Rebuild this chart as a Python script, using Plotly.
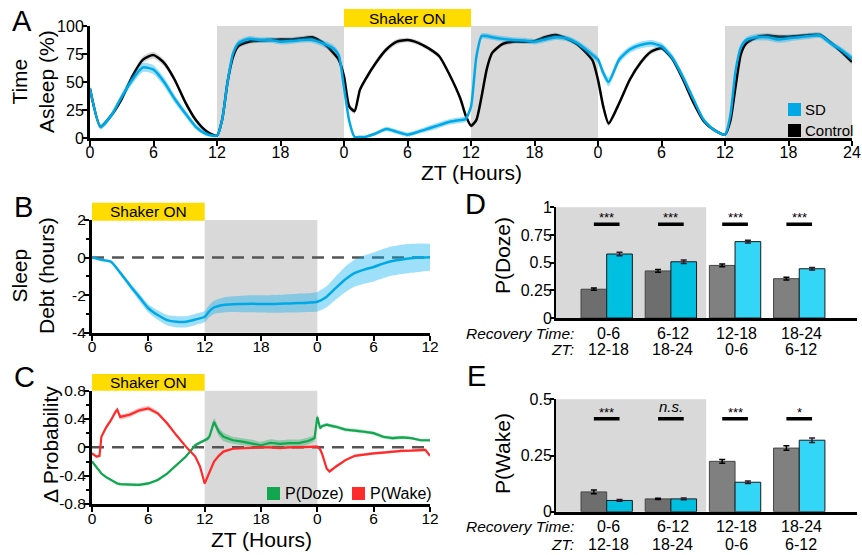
import plotly.graph_objects as go

W, H = 862, 555
def PX(x): return x / W
def PY(y): return 1 - y / H

FONT = "Liberation Sans, Arial, Helvetica, sans-serif"
BLUE = "#00a9e6"
BLUE_BAND = "rgba(0,174,239,0.38)"
BLACK_BAND = "rgba(0,0,0,0.16)"
GREEN = "#12a64f"
GREEN_BAND = "rgba(18,166,79,0.35)"
RED = "#ff2a2a"
RED_BAND = "rgba(255,42,42,0.3)"
YELLOW = "#ffdc00"
SHADE = "#d9d9d9"

# ---------------- Panel A data ----------------
t_A = [0,1,2,3,4,5,6,7,8,9,10,11,12,
       12.5,13,13.5,14,
       15,16,17,18,19,20,21,22,23,
       23.5,24,24.5,25,25.5,26,
       27,28,29,30,31,32,33,34,35,
       35.5,36,36.5,37,37.5,38,
       39,40,41,42,43,44,45,46,47,
       47.5,48,48.5,49,
       50,51,52,53,54,55,56,57,58,59,60,
       60.5,61,61.5,62,
       63,64,65,66,67,68,69,70,71,72]
ctrl_A = [44,10,20,35,55,70,74,67,52,32,16,6,2,
          17,50,72,82,
          86,87,87.5,88,88,89,90,85,76,
          70,55,28,24,43,52,
          67,79,86,87.5,85,80,73,56,35,
          20,11,16,37,62,76,
          84,86,86,86.5,90,92,89,84,75,
          69,52,28,13,
          31,52,67,77,80,71,53,32,15,7,3,
          15,46,75,84.5,
          90,91.5,90.5,90.5,91,92,92,85,77,68]
ctrl_A_sem = [2,2,2,2.5,3,3,3,3,2.5,2,2,1.5,1,
              2,2,2,2,
              2,2,2,2,2,2,2,2,2.5,
              2.5,2.5,2.5,2.5,2.5,2.5,
              2.5,2.5,2.5,2,2,2,2,2,2,
              2,2,2,2.5,2.5,2,
              2,2,2,2,2,2,2,2,2,
              2,2.5,2.5,2.5,
              2.5,2.5,2.5,2.5,2,2,2,2,2,1.5,1,
              2,2,2,2,
              2,2,2,2,2,2,2,2,2,2.5]
sd_A = [44,10,20,37,52,63,61,50,35,22,10,3.5,2,
        17,50,75,84.5,
        88.5,87.5,87.5,86,86.5,87.5,87.5,84.5,80,
        74,45,15,1,1,1,
        4,8,5.5,3,5.5,8.5,11.5,14.5,16,
        17,28,72,91,91,90,
        88.5,87.5,87,86,88,90,89,85,78,
        74,70,58,50,
        70,79,83,84.5,82,72,55,35,16,7,3,
        20,60,81,87.5,
        90,90,88,89,90,91,91.5,84.5,78.5,71]
sd_A_sem = [2.5,2.5,2.5,3,4,4,4,4,3.5,3,2.5,2,1,
            2,2.5,2.5,2.5,
            2.5,2.5,2.5,2.5,2.5,2.5,2.5,3,3,
            3,3,2,1,1,1,
            1.5,2,2,2,2,2.5,2.5,2.5,2.5,
            2.5,2.5,2.5,2.5,2.5,2.5,
            2.5,2.5,2.5,2.5,2.5,2.5,2.5,2.5,3,
            3,3,3.5,4,
            3.5,3,3,3,3,3,3,2.5,2,1.5,1,
            2,2.5,2.5,2.5,
            3,3,3,3,2.5,2.5,2.5,2.5,2.5,3]
ticks_A = [0,6,12,18,24,30,36,42,48,54,60,66,72]
ticktext_A = ["0","6","12","18","0","6","12","18","0","6","12","18","24"]
dark_A = [(12,24),(36,48),(60,72)]
shaker_A = (24,36)

# ---------------- Panel B data ----------------
t_B = [0,1,2,3,4,5,6,7,8,9,10,11,12,12.5,13,14,15,16,17,18,19,20,21,22,23,24,
       25,26,27,28,29,30,31,32,33,34,35,36]
debt_B = [0,-0.12,-0.22,-0.8,-1.46,-2.08,-2.7,-3.06,-3.33,-3.42,-3.42,-3.3,-3.15,
          -2.85,-2.65,-2.52,-2.48,-2.47,-2.46,-2.47,-2.47,-2.46,-2.44,-2.42,-2.4,-2.35,
          -2.08,-1.6,-1.15,-0.82,-0.64,-0.5,-0.32,-0.18,-0.1,-0.04,0,0.02]
debt_B_sem = [0,0.03,0.05,0.1,0.15,0.2,0.22,0.25,0.27,0.3,0.3,0.3,0.3,
              0.32,0.35,0.4,0.42,0.44,0.45,0.46,0.47,0.48,0.49,0.5,0.5,0.52,
              0.56,0.62,0.68,0.72,0.75,0.77,0.78,0.78,0.78,0.77,0.75,0.72]
ticks_BC = [0,6,12,18,24,30,36]
ticktext_BC = ["0","6","12","18","0","6","12"]
dark_BC = (12,24)
shaker_BC = (0,12)

# ---------------- Panel C data ----------------
t_C = [0,0.5,0.8,1,1.5,2,2.5,2.7,3,4,5,6,7,8,9,10,11,
       11.5,12,12.3,12.5,13,13.5,14,15,16,17,18,19,20,21,22,23,
       23.7,24,24.3,24.5,25,25.3,26,27,28,29,30,31,32,33,34,35,35.5,36]
wake_C = [-0.085,-0.13,-0.12,0.15,0.28,0.38,0.5,0.53,0.43,0.46,0.52,0.55,0.48,0.34,0.17,0.01,-0.13,
          -0.27,-0.51,-0.42,-0.35,-0.2,-0.12,-0.06,-0.02,-0.01,0,0,0,-0.01,0,0,0,
          0.01,0.01,-0.03,-0.09,-0.3,-0.34,-0.27,-0.18,-0.12,-0.1,-0.085,-0.075,-0.06,-0.05,-0.047,-0.04,-0.035,-0.12]
wake_C_sem = [0.02,0.02,0.02,0.02,0.025,0.03,0.035,0.035,0.035,0.035,0.035,0.035,0.03,0.025,0.02,0.02,0.02,
              0.02,0.02,0.02,0.02,0.02,0.02,0.02,0.015,0.015,0.015,0.015,0.015,0.015,0.015,0.015,0.015,
              0.015,0.015,0.02,0.02,0.02,0.02,0.02,0.02,0.02,0.02,0.02,0.02,0.02,0.02,0.02,0.02,0.02,0.02]
doze_C = [-0.2,-0.28,-0.33,-0.37,-0.42,-0.46,-0.5,-0.51,-0.52,-0.53,-0.53,-0.51,-0.46,-0.37,-0.25,-0.13,0.03,
          0.07,0.1,0.12,0.15,0.36,0.22,0.15,0.1,0.08,0.06,0.03,0.065,0.05,0.06,0.06,0.09,
          0.13,0.43,0.27,0.3,0.32,0.31,0.29,0.25,0.24,0.22,0.2,0.15,0.13,0.14,0.13,0.1,0.1,0.1]
doze_C_sem = [0.02,0.02,0.02,0.02,0.02,0.02,0.02,0.02,0.02,0.02,0.02,0.02,0.02,0.02,0.02,0.02,0.02,
              0.02,0.02,0.03,0.03,0.05,0.06,0.06,0.05,0.05,0.05,0.05,0.05,0.05,0.05,0.05,0.05,
              0.04,0.03,0.025,0.025,0.025,0.025,0.025,0.025,0.025,0.025,0.025,0.025,0.025,0.025,0.02,0.02,0.02,0.02]

# ---------------- Panels D / E data ----------------
recovery_labels = ["0-6", "6-12", "12-18", "18-24"]
zt_labels = ["12-18", "18-24", "0-6", "6-12"]
doze_ctrl = [0.26, 0.425, 0.475, 0.355]
doze_ctrl_err = [0.01, 0.012, 0.012, 0.012]
doze_sd = [0.578, 0.508, 0.69, 0.445]
doze_sd_err = [0.015, 0.016, 0.012, 0.012]
wake_ctrl = [0.088, 0.057, 0.224, 0.283]
wake_ctrl_err = [0.008, 0.003, 0.008, 0.01]
wake_sd = [0.05, 0.057, 0.131, 0.318]
wake_sd_err = [0.004, 0.004, 0.006, 0.01]
sig_doze = ["***", "***", "***", "***"]
sig_wake = ["***", "n.s.", "***", "*"]
sig_y_doze = 0.846
sig_y_wake = 0.413
ctrl_bar_colors = ["#6e6e6e", "#6e6e6e", "#808080", "#808080"]
sd_bar_colors = ["#00c0e2", "#00c0e2", "#33d6f7", "#33d6f7"]

fig = go.Figure()

def add_band(x, y, s, color, xa, ya):
    up = [a + b for a, b in zip(y, s)]
    lo = [a - b for a, b in zip(y, s)]
    fig.add_trace(go.Scatter(x=x, y=up, mode="lines", line=dict(width=0, shape="spline", smoothing=0.6),
                             hoverinfo="skip", showlegend=False, xaxis=xa, yaxis=ya))
    fig.add_trace(go.Scatter(x=x, y=lo, mode="lines", line=dict(width=0, shape="spline", smoothing=0.6),
                             fill="tonexty", fillcolor=color, hoverinfo="skip", showlegend=False,
                             xaxis=xa, yaxis=ya))

def add_line(x, y, color, width, xa, ya, shape="spline"):
    fig.add_trace(go.Scatter(x=x, y=y, mode="lines",
                             line=dict(color=color, width=width, shape=shape, smoothing=0.6),
                             showlegend=False, xaxis=xa, yaxis=ya))

# A
add_band(t_A, ctrl_A, ctrl_A_sem, BLACK_BAND, "x", "y")
add_line(t_A, ctrl_A, "black", 2.5, "x", "y")
add_band(t_A, sd_A, sd_A_sem, BLUE_BAND, "x", "y")
add_line(t_A, sd_A, BLUE, 2.5, "x", "y")
# B
add_band(t_B, debt_B, debt_B_sem, BLUE_BAND, "x2", "y2")
add_line(t_B, debt_B, BLUE, 2.5, "x2", "y2")
# C
add_band(t_C, doze_C, doze_C_sem, GREEN_BAND, "x3", "y3")
add_line(t_C, doze_C, GREEN, 2.2, "x3", "y3", shape="linear")
add_band(t_C, wake_C, wake_C_sem, RED_BAND, "x3", "y3")
add_line(t_C, wake_C, RED, 2.2, "x3", "y3", shape="linear")

# D / E bars
pos = list(range(len(recovery_labels)))
for ya, xa, cv, ce, sv, se in [("y4", "x4", doze_ctrl, doze_ctrl_err, doze_sd, doze_sd_err),
                               ("y5", "x5", wake_ctrl, wake_ctrl_err, wake_sd, wake_sd_err)]:
    fig.add_trace(go.Bar(x=[p - 0.2 for p in pos], y=cv, width=0.4,
                         marker=dict(color=ctrl_bar_colors, line=dict(color="#444444", width=1)),
                         error_y=dict(type="data", array=ce, color="black", thickness=1.5, width=3),
                         showlegend=False, xaxis=xa, yaxis=ya))
    fig.add_trace(go.Bar(x=[p + 0.2 for p in pos], y=sv, width=0.4,
                         marker=dict(color=sd_bar_colors, line=dict(color="#1a1a1a", width=1)),
                         error_y=dict(type="data", array=se, color="#2a1a2a", thickness=1.5, width=3),
                         showlegend=False, xaxis=xa, yaxis=ya))

shapes = []
annotations = []

# Shading
for a, b in dark_A:
    shapes.append(dict(type="rect", xref="x", yref="y domain", x0=a, x1=b, y0=0, y1=1,
                       fillcolor=SHADE, line=dict(width=0), layer="below"))
for xr, yr in [("x2", "y2"), ("x3", "y3")]:
    shapes.append(dict(type="rect", xref=xr, yref=yr + " domain", x0=dark_BC[0], x1=dark_BC[1],
                       y0=0, y1=1, fillcolor=SHADE, line=dict(width=0), layer="below"))
    shapes.append(dict(type="line", xref=xr, yref=yr, x0=0, x1=36, y0=0, y1=0,
                       line=dict(color="#555555", width=2.5, dash="12px,8px"), layer="below"))
for xr, yr in [("x4", "y4"), ("x5", "y5")]:
    shapes.append(dict(type="rect", xref=xr, yref=yr + " domain", x0=-0.79, x1=1.55, y0=0, y1=1,
                       fillcolor=SHADE, line=dict(width=0), layer="below"))

# Shaker ON bars
shaker_specs = [("x", shaker_A, 27, 9), ("x2", shaker_BC, 220.7, 202.7), ("x3", shaker_BC, 390.7, 374)]
for xr, (a, b), ybot, ytop in shaker_specs:
    shapes.append(dict(type="rect", xref=xr, yref="paper", x0=a, x1=b, y0=PY(ybot), y1=PY(ytop),
                       fillcolor=YELLOW, line=dict(width=0), layer="above"))
    annotations.append(dict(text="Shaker ON", xref=xr, yref="paper", x=(a + b) / 2,
                            y=PY((ybot + ytop) / 2), showarrow=False, xanchor="center", yanchor="middle",
                            font=dict(size=15.5, color="black", family=FONT)))

# Significance lines / stars
for xr, yr, sy, labels in [("x4", "y4", sig_y_doze, sig_doze), ("x5", "y5", sig_y_wake, sig_wake)]:
    for p, lab in zip(pos, labels):
        shapes.append(dict(type="line", xref=xr, yref=yr, x0=p - 0.2, x1=p + 0.2, y0=sy, y1=sy,
                           line=dict(color="black", width=3.5), layer="above"))
        if lab == "n.s.":
            annotations.append(dict(text="<i>n.s.</i>", xref=xr, yref=yr, x=p, y=sy, yshift=2,
                                    showarrow=False, yanchor="bottom",
                                    font=dict(size=15, color="black", family=FONT)))
        else:
            annotations.append(dict(text=lab, xref=xr, yref=yr, x=p, y=sy, yshift=-3,
                                    showarrow=False, yanchor="bottom",
                                    font=dict(size=13, color="black", family=FONT)))

# Category labels D/E
for xr, y1, y2 in [("x4", 333, 349.5), ("x5", 526, 544)]:
    for p, rl, zl in zip(pos, recovery_labels, zt_labels):
        annotations.append(dict(text=rl, xref=xr, yref="paper", x=p + 0.03, y=PY(y1), showarrow=False,
                                xanchor="center", yanchor="middle", font=dict(size=16, color="black", family=FONT)))
        annotations.append(dict(text=zl, xref=xr, yref="paper", x=p + 0.03, y=PY(y2), showarrow=False,
                                xanchor="center", yanchor="middle", font=dict(size=16, color="black", family=FONT)))
    annotations.append(dict(text="<i>Recovery Time:</i>", xref="paper", yref="paper", x=PX(576), y=PY(y1),
                            showarrow=False, xanchor="right", yanchor="middle",
                            font=dict(size=15.5, color="black", family=FONT)))
    annotations.append(dict(text="<i>ZT:</i>", xref="paper", yref="paper", x=PX(576), y=PY(y2),
                            showarrow=False, xanchor="right", yanchor="middle",
                            font=dict(size=15.5, color="black", family=FONT)))

# Legends
legA = [("SD", BLUE, 103, 116), ("Control", "black", 124, 137)]
for lab, col, y0, y1 in legA:
    shapes.append(dict(type="rect", xref="paper", yref="paper", x0=PX(788), x1=PX(801),
                       y0=PY(y1), y1=PY(y0), fillcolor=col, line=dict(width=0), layer="above"))
    annotations.append(dict(text=lab, xref="paper", yref="paper", x=PX(803), y=PY((y0 + y1) / 2),
                            showarrow=False, xanchor="left", yanchor="middle",
                            font=dict(size=15, color="black", family=FONT)))
legC = [("P(Doze)", GREEN, 267), ("P(Wake)", RED, 352)]
for lab, col, x0 in legC:
    shapes.append(dict(type="rect", xref="paper", yref="paper", x0=PX(x0), x1=PX(x0 + 13),
                       y0=PY(500), y1=PY(487), fillcolor=col, line=dict(width=0), layer="above"))
    annotations.append(dict(text=lab, xref="paper", yref="paper", x=PX(x0 + 15.5), y=PY(493.5),
                            showarrow=False, xanchor="left", yanchor="middle",
                            font=dict(size=16, color="black", family=FONT)))

# Axis titles
titles = [("Time<br>Asleep (%)", 33, 82, -90), ("Sleep<br>Debt (hours)", 33, 276, -90),
          ("\u0394 Probability", 50, 445, -90), ("P(Doze)", 502.5, 255.5, -90),
          ("P(Wake)", 502.5, 453.5, -90), ("ZT (Hours)", 471, 172.5, 0), ("ZT (Hours)", 261, 539, 0)]
for txt, x, y, ang in titles:
    annotations.append(dict(text=txt, xref="paper", yref="paper", x=PX(x), y=PY(y), showarrow=False,
                            xanchor="center", yanchor="middle", textangle=ang,
                            font=dict(size=21, color="black", family=FONT)))

# Panel letters
for L, x, y in [("A", 10, 21), ("B", 12, 207), ("C", 12, 377), ("D", 463, 204), ("E", 465, 376)]:
    annotations.append(dict(text=L, xref="paper", yref="paper", x=PX(x), y=PY(y), showarrow=False,
                            xanchor="left", yanchor="middle", font=dict(size=29, color="black", family=FONT)))

axis_common = dict(showgrid=False, zeroline=False, showline=True, linecolor="black", automargin=False,
                   ticks="outside", tickcolor="black", tickfont=dict(size=16, color="black", family=FONT))
XSO = -7
YSO = -5

fig.update_layout(
    width=W, height=H, margin=dict(l=0, r=0, t=0, b=0, autoexpand=False),
    paper_bgcolor="white", plot_bgcolor="white", barmode="overlay",
    font=dict(family=FONT, color="black"),
    shapes=shapes, annotations=annotations,
    xaxis=dict(axis_common, domain=[PX(90), PX(852)], anchor="y", range=[0, 72],
               tickvals=ticks_A, ticktext=ticktext_A, linewidth=3, ticklen=5, tickwidth=2,
               ticklabelstandoff=XSO),
    yaxis=dict(axis_common, domain=[PY(138), PY(26)], anchor="x", range=[0, 100],
               tickvals=[0, 25, 50, 75, 100], linewidth=3, ticklen=5, tickwidth=2, ticklabelstandoff=YSO),
    xaxis2=dict(axis_common, domain=[PX(92), PX(430)], anchor="y2", range=[0, 36],
                tickvals=ticks_BC, ticktext=ticktext_BC, linewidth=3, ticklen=5, tickwidth=2,
                tickfont=dict(size=15.5, color="black", family=FONT), ticklabelstandoff=XSO),
    yaxis2=dict(axis_common, domain=[PY(332.7), PY(220)], anchor="x2", range=[-4, 2],
                tickvals=[-4, -2, 0, 2], ticktext=["-4", "-2", "0", "2"], linewidth=3, ticklen=5, tickwidth=2,
                tickfont=dict(size=15.5, color="black", family=FONT), ticklabelstandoff=YSO,
                minor=dict(tickvals=[-3, -1, 1], ticks="outside", ticklen=3, tickwidth=1.5, tickcolor="black")),
    xaxis3=dict(axis_common, domain=[PX(92), PX(430)], anchor="y3", range=[0, 36],
                tickvals=ticks_BC, ticktext=ticktext_BC, linewidth=3, ticklen=5, tickwidth=2,
                tickfont=dict(size=15.5, color="black", family=FONT), ticklabelstandoff=XSO),
    yaxis3=dict(axis_common, domain=[PY(504), PY(390.7)], anchor="x3", range=[-0.8, 0.8],
                tickvals=[-0.8, -0.4, 0, 0.4, 0.8], ticktext=["-0.8", "-0.4", "0", "0.4", "0.8"],
                linewidth=3, ticklen=5, tickwidth=2, tickfont=dict(size=15.5, color="black", family=FONT),
                ticklabelstandoff=YSO,
                minor=dict(tickvals=[-0.6, -0.2, 0.2, 0.6], ticks="outside", ticklen=3, tickwidth=1.5,
                           tickcolor="black")),
    xaxis4=dict(axis_common, domain=[PX(556), PX(857)], anchor="y4", range=[-0.79, 3.9],
                showticklabels=False, ticks="", linewidth=3),
    yaxis4=dict(axis_common, domain=[PY(318), PY(207.3)], anchor="x4", range=[0, 1],
                tickvals=[0, 0.25, 0.5, 0.75, 1], ticktext=["0", "0.25", "0.5", "0.75", "1"],
                linewidth=2, ticklen=4, tickwidth=1.5, ticklabelstandoff=YSO),
    xaxis5=dict(axis_common, domain=[PX(556), PX(857)], anchor="y5", range=[-0.79, 3.9],
                showticklabels=False, ticks="", linewidth=3),
    yaxis5=dict(axis_common, domain=[PY(511.7), PY(399.3)], anchor="x5", range=[0, 0.5],
                tickvals=[0, 0.25, 0.5], ticktext=["0", "0.25", "0.5"],
                linewidth=2, ticklen=4, tickwidth=1.5, ticklabelstandoff=YSO),
)

fig.write_html("out.html", config={"displayModeBar": False},
               post_script="document.body.style.margin='0';document.body.style.overflow='hidden';")
